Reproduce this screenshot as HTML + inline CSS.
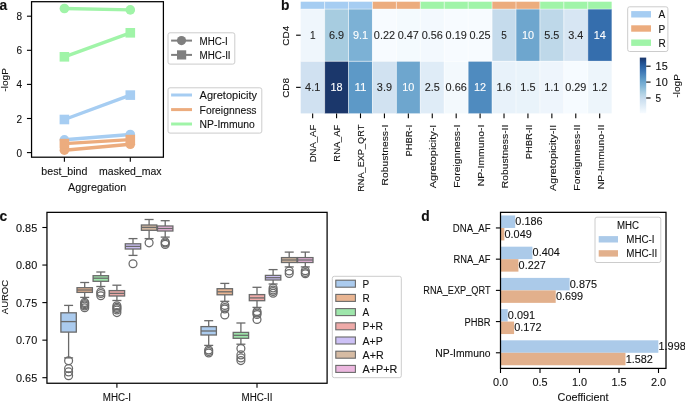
<!DOCTYPE html>
<html><head><meta charset="utf-8"><title>Figure</title>
<style>
html,body{margin:0;padding:0;background:#fff;}
body{width:685px;height:402px;overflow:hidden;}
svg{display:block;will-change:transform;font-family:"Liberation Sans", sans-serif;font-size:10.0px;fill:#111;}
text{stroke-width:0.1px;}
</style></head>
<body>
<svg width="685" height="402" viewBox="0 0 685 402">
<rect width="685" height="402" fill="#fff"/>
<g fill="#111" stroke="none">
<text x="-0.60" y="9.80" font-size="13.8" font-weight="bold" stroke="#111">a</text>
<line x1="26.95" y1="152.60" x2="31.55" y2="152.60" stroke="#000" stroke-width="1.1"/>
<text x="22.00" y="156.60" text-anchor="end" stroke="#111">0</text>
<line x1="26.95" y1="118.50" x2="31.55" y2="118.50" stroke="#000" stroke-width="1.1"/>
<text x="22.00" y="122.50" text-anchor="end" stroke="#111">2</text>
<line x1="26.95" y1="84.40" x2="31.55" y2="84.40" stroke="#000" stroke-width="1.1"/>
<text x="22.00" y="88.40" text-anchor="end" stroke="#111">4</text>
<line x1="26.95" y1="50.30" x2="31.55" y2="50.30" stroke="#000" stroke-width="1.1"/>
<text x="22.00" y="54.30" text-anchor="end" stroke="#111">6</text>
<line x1="26.95" y1="16.20" x2="31.55" y2="16.20" stroke="#000" stroke-width="1.1"/>
<text x="22.00" y="20.20" text-anchor="end" stroke="#111">8</text>
<line x1="64.40" y1="157.20" x2="64.40" y2="161.80" stroke="#000" stroke-width="1.1"/>
<text x="64.40" y="175.40" text-anchor="middle" stroke="#111" textLength="46.02" lengthAdjust="spacingAndGlyphs">best_bind</text>
<line x1="130.30" y1="157.20" x2="130.30" y2="161.80" stroke="#000" stroke-width="1.1"/>
<text x="130.30" y="175.40" text-anchor="middle" stroke="#111" textLength="62.51" lengthAdjust="spacingAndGlyphs">masked_max</text>
<text x="97.20" y="191.00" text-anchor="middle" stroke="#111" textLength="58.15" lengthAdjust="spacingAndGlyphs">Aggregation</text>
<text x="8.20" y="79.90" font-size="9.6" text-anchor="middle" stroke="#111" textLength="23.64" lengthAdjust="spacingAndGlyphs" transform="rotate(-90 8.20 79.90)">-logP</text>
<line x1="64.40" y1="139.80" x2="130.30" y2="134.50" stroke="#a6cdf2" stroke-width="3.4"/>
<circle cx="64.40" cy="139.80" r="4.80" fill="#a6cdf2"/>
<circle cx="130.30" cy="134.50" r="4.80" fill="#a6cdf2"/>
<line x1="64.40" y1="119.50" x2="130.30" y2="95.10" stroke="#a6cdf2" stroke-width="3.4"/>
<rect x="59.60" y="114.70" width="9.60" height="9.60" fill="#a6cdf2"/>
<rect x="125.50" y="90.30" width="9.60" height="9.60" fill="#a6cdf2"/>
<line x1="64.40" y1="150.20" x2="130.30" y2="144.30" stroke="#ecac7e" stroke-width="3.4"/>
<circle cx="64.40" cy="150.20" r="4.80" fill="#ecac7e"/>
<circle cx="130.30" cy="144.30" r="4.80" fill="#ecac7e"/>
<line x1="64.40" y1="143.60" x2="130.30" y2="139.60" stroke="#ecac7e" stroke-width="3.4"/>
<rect x="59.60" y="138.80" width="9.60" height="9.60" fill="#ecac7e"/>
<rect x="125.50" y="134.80" width="9.60" height="9.60" fill="#ecac7e"/>
<line x1="64.40" y1="8.50" x2="130.30" y2="9.90" stroke="#a0f4a8" stroke-width="3.4"/>
<circle cx="64.40" cy="8.50" r="4.80" fill="#a0f4a8"/>
<circle cx="130.30" cy="9.90" r="4.80" fill="#a0f4a8"/>
<line x1="64.40" y1="56.80" x2="130.30" y2="32.80" stroke="#a0f4a8" stroke-width="3.4"/>
<rect x="59.60" y="52.00" width="9.60" height="9.60" fill="#a0f4a8"/>
<rect x="125.50" y="28.00" width="9.60" height="9.60" fill="#a0f4a8"/>
<rect x="31.55" y="1.70" width="131.85" height="155.50" fill="none" stroke="#000" stroke-width="1.25"/>
<rect x="168.00" y="32.80" width="66.80" height="31.30" fill="#fff" stroke="#cccccc" stroke-width="1.0" rx="2"/>
<line x1="171.10" y1="40.60" x2="192.00" y2="40.60" stroke="#7f7f7f" stroke-width="2.0"/>
<circle cx="181.50" cy="40.60" r="4.60" fill="#7f7f7f"/>
<text x="199.60" y="44.60" stroke="#111" textLength="28.20" lengthAdjust="spacingAndGlyphs">MHC-I</text>
<line x1="171.10" y1="54.90" x2="192.00" y2="54.90" stroke="#7f7f7f" stroke-width="2.0"/>
<rect x="177.00" y="50.30" width="9.20" height="9.20" fill="#7f7f7f"/>
<text x="199.60" y="58.90" stroke="#111" textLength="31.01" lengthAdjust="spacingAndGlyphs">MHC-II</text>
<rect x="168.00" y="87.80" width="93.80" height="45.30" fill="#fff" stroke="#cccccc" stroke-width="1.0" rx="2"/>
<line x1="171.10" y1="95.00" x2="192.00" y2="95.00" stroke="#a6cdf2" stroke-width="3.0"/>
<text x="199.60" y="99.00" stroke="#111" textLength="57.49" lengthAdjust="spacingAndGlyphs">Agretopicity</text>
<line x1="171.10" y1="109.60" x2="192.00" y2="109.60" stroke="#ecac7e" stroke-width="3.0"/>
<text x="199.60" y="113.60" stroke="#111" textLength="56.94" lengthAdjust="spacingAndGlyphs">Foreignness</text>
<line x1="171.10" y1="124.00" x2="192.00" y2="124.00" stroke="#a0f4a8" stroke-width="3.0"/>
<text x="199.60" y="128.00" stroke="#111" textLength="55.22" lengthAdjust="spacingAndGlyphs">NP-Immuno</text>
<text x="281.00" y="9.80" font-size="13.8" font-weight="bold" stroke="#111">b</text>
<rect x="300.70" y="1.70" width="23.92" height="7.40" fill="#a6cdf2"/>
<rect x="324.62" y="1.70" width="23.92" height="7.40" fill="#a6cdf2"/>
<rect x="348.54" y="1.70" width="23.92" height="7.40" fill="#a6cdf2"/>
<rect x="372.46" y="1.70" width="23.92" height="7.40" fill="#ecac7e"/>
<rect x="396.38" y="1.70" width="23.92" height="7.40" fill="#ecac7e"/>
<rect x="420.30" y="1.70" width="23.92" height="7.40" fill="#a0f4a8"/>
<rect x="444.22" y="1.70" width="23.92" height="7.40" fill="#a0f4a8"/>
<rect x="468.14" y="1.70" width="23.92" height="7.40" fill="#a0f4a8"/>
<rect x="492.06" y="1.70" width="23.92" height="7.40" fill="#ecac7e"/>
<rect x="515.98" y="1.70" width="23.92" height="7.40" fill="#ecac7e"/>
<rect x="539.90" y="1.70" width="23.92" height="7.40" fill="#a0f4a8"/>
<rect x="563.82" y="1.70" width="23.92" height="7.40" fill="#a0f4a8"/>
<rect x="587.74" y="1.70" width="23.92" height="7.40" fill="#a0f4a8"/>
<rect x="300.70" y="9.10" width="23.92" height="52.20" fill="#eff6fc"/>
<rect x="324.62" y="9.10" width="23.92" height="52.20" fill="#a7cce0"/>
<rect x="348.54" y="9.10" width="23.92" height="52.20" fill="#7cb1d5"/>
<rect x="372.46" y="9.10" width="23.92" height="52.20" fill="#f7fbff"/>
<rect x="396.38" y="9.10" width="23.92" height="52.20" fill="#f4fafe"/>
<rect x="420.30" y="9.10" width="23.92" height="52.20" fill="#f3f9fe"/>
<rect x="444.22" y="9.10" width="23.92" height="52.20" fill="#f7fbff"/>
<rect x="468.14" y="9.10" width="23.92" height="52.20" fill="#f7fbff"/>
<rect x="492.06" y="9.10" width="23.92" height="52.20" fill="#c5dbec"/>
<rect x="515.98" y="9.10" width="23.92" height="52.20" fill="#6ea6ce"/>
<rect x="539.90" y="9.10" width="23.92" height="52.20" fill="#bed8e9"/>
<rect x="563.82" y="9.10" width="23.92" height="52.20" fill="#d7e6f3"/>
<rect x="587.74" y="9.10" width="23.92" height="52.20" fill="#356ead"/>
<rect x="300.70" y="61.30" width="23.92" height="52.10" fill="#d0e1f1"/>
<rect x="324.62" y="61.30" width="23.92" height="52.10" fill="#1b376b"/>
<rect x="348.54" y="61.30" width="23.92" height="52.10" fill="#5d99c7"/>
<rect x="372.46" y="61.30" width="23.92" height="52.10" fill="#d1e2f1"/>
<rect x="396.38" y="61.30" width="23.92" height="52.10" fill="#6ea6ce"/>
<rect x="420.30" y="61.30" width="23.92" height="52.10" fill="#dfecf7"/>
<rect x="444.22" y="61.30" width="23.92" height="52.10" fill="#f3f9fd"/>
<rect x="468.14" y="61.30" width="23.92" height="52.10" fill="#4f8bbf"/>
<rect x="492.06" y="61.30" width="23.92" height="52.10" fill="#e8f2fa"/>
<rect x="515.98" y="61.30" width="23.92" height="52.10" fill="#e9f3fa"/>
<rect x="539.90" y="61.30" width="23.92" height="52.10" fill="#eef5fc"/>
<rect x="563.82" y="61.30" width="23.92" height="52.10" fill="#f6fbff"/>
<rect x="587.74" y="61.30" width="23.92" height="52.10" fill="#edf5fb"/>
<line x1="324.62" y1="1.70" x2="324.62" y2="113.40" stroke="#fff" stroke-width="0.55"/>
<line x1="348.54" y1="1.70" x2="348.54" y2="113.40" stroke="#fff" stroke-width="0.55"/>
<line x1="372.46" y1="1.70" x2="372.46" y2="113.40" stroke="#fff" stroke-width="0.55"/>
<line x1="396.38" y1="1.70" x2="396.38" y2="113.40" stroke="#fff" stroke-width="0.55"/>
<line x1="420.30" y1="1.70" x2="420.30" y2="113.40" stroke="#fff" stroke-width="0.55"/>
<line x1="444.22" y1="1.70" x2="444.22" y2="113.40" stroke="#fff" stroke-width="0.55"/>
<line x1="468.14" y1="1.70" x2="468.14" y2="113.40" stroke="#fff" stroke-width="0.55"/>
<line x1="492.06" y1="1.70" x2="492.06" y2="113.40" stroke="#fff" stroke-width="0.55"/>
<line x1="515.98" y1="1.70" x2="515.98" y2="113.40" stroke="#fff" stroke-width="0.55"/>
<line x1="539.90" y1="1.70" x2="539.90" y2="113.40" stroke="#fff" stroke-width="0.55"/>
<line x1="563.82" y1="1.70" x2="563.82" y2="113.40" stroke="#fff" stroke-width="0.55"/>
<line x1="587.74" y1="1.70" x2="587.74" y2="113.40" stroke="#fff" stroke-width="0.55"/>
<line x1="300.70" y1="9.10" x2="611.66" y2="9.10" stroke="#fff" stroke-width="0.45"/>
<line x1="300.70" y1="61.30" x2="611.66" y2="61.30" stroke="#fff" stroke-width="0.55"/>
<text x="312.66" y="38.85" text-anchor="middle" fill="#262626" stroke="#262626">1</text>
<text x="336.58" y="38.85" text-anchor="middle" fill="#262626" stroke="#262626" textLength="15.11" lengthAdjust="spacingAndGlyphs">6.9</text>
<text x="360.50" y="38.85" text-anchor="middle" fill="#ffffff" stroke="#ffffff" textLength="15.11" lengthAdjust="spacingAndGlyphs">9.1</text>
<text x="384.42" y="38.85" text-anchor="middle" fill="#262626" stroke="#262626" textLength="21.15" lengthAdjust="spacingAndGlyphs">0.22</text>
<text x="408.34" y="38.85" text-anchor="middle" fill="#262626" stroke="#262626" textLength="21.15" lengthAdjust="spacingAndGlyphs">0.47</text>
<text x="432.26" y="38.85" text-anchor="middle" fill="#262626" stroke="#262626" textLength="21.15" lengthAdjust="spacingAndGlyphs">0.56</text>
<text x="456.18" y="38.85" text-anchor="middle" fill="#262626" stroke="#262626" textLength="21.15" lengthAdjust="spacingAndGlyphs">0.19</text>
<text x="480.10" y="38.85" text-anchor="middle" fill="#262626" stroke="#262626" textLength="21.15" lengthAdjust="spacingAndGlyphs">0.25</text>
<text x="504.02" y="38.85" text-anchor="middle" fill="#262626" stroke="#262626">5</text>
<text x="527.94" y="38.85" text-anchor="middle" fill="#ffffff" stroke="#ffffff" textLength="12.09" lengthAdjust="spacingAndGlyphs">10</text>
<text x="551.86" y="38.85" text-anchor="middle" fill="#262626" stroke="#262626" textLength="15.11" lengthAdjust="spacingAndGlyphs">5.5</text>
<text x="575.78" y="38.85" text-anchor="middle" fill="#262626" stroke="#262626" textLength="15.11" lengthAdjust="spacingAndGlyphs">3.4</text>
<text x="599.70" y="38.85" text-anchor="middle" fill="#ffffff" stroke="#ffffff" textLength="12.09" lengthAdjust="spacingAndGlyphs">14</text>
<text x="312.66" y="91.00" text-anchor="middle" fill="#262626" stroke="#262626" textLength="15.11" lengthAdjust="spacingAndGlyphs">4.1</text>
<text x="336.58" y="91.00" text-anchor="middle" fill="#ffffff" stroke="#ffffff" textLength="12.09" lengthAdjust="spacingAndGlyphs">18</text>
<text x="360.50" y="91.00" text-anchor="middle" fill="#ffffff" stroke="#ffffff" textLength="12.09" lengthAdjust="spacingAndGlyphs">11</text>
<text x="384.42" y="91.00" text-anchor="middle" fill="#262626" stroke="#262626" textLength="15.11" lengthAdjust="spacingAndGlyphs">3.9</text>
<text x="408.34" y="91.00" text-anchor="middle" fill="#ffffff" stroke="#ffffff" textLength="12.09" lengthAdjust="spacingAndGlyphs">10</text>
<text x="432.26" y="91.00" text-anchor="middle" fill="#262626" stroke="#262626" textLength="15.11" lengthAdjust="spacingAndGlyphs">2.5</text>
<text x="456.18" y="91.00" text-anchor="middle" fill="#262626" stroke="#262626" textLength="21.15" lengthAdjust="spacingAndGlyphs">0.66</text>
<text x="480.10" y="91.00" text-anchor="middle" fill="#ffffff" stroke="#ffffff" textLength="12.09" lengthAdjust="spacingAndGlyphs">12</text>
<text x="504.02" y="91.00" text-anchor="middle" fill="#262626" stroke="#262626" textLength="15.11" lengthAdjust="spacingAndGlyphs">1.6</text>
<text x="527.94" y="91.00" text-anchor="middle" fill="#262626" stroke="#262626" textLength="15.11" lengthAdjust="spacingAndGlyphs">1.5</text>
<text x="551.86" y="91.00" text-anchor="middle" fill="#262626" stroke="#262626" textLength="15.11" lengthAdjust="spacingAndGlyphs">1.1</text>
<text x="575.78" y="91.00" text-anchor="middle" fill="#262626" stroke="#262626" textLength="21.15" lengthAdjust="spacingAndGlyphs">0.29</text>
<text x="599.70" y="91.00" text-anchor="middle" fill="#262626" stroke="#262626" textLength="15.11" lengthAdjust="spacingAndGlyphs">1.2</text>
<line x1="296.10" y1="35.20" x2="300.70" y2="35.20" stroke="#000" stroke-width="1.1"/>
<text x="289.30" y="35.70" font-size="9.6" text-anchor="middle" stroke="#111" textLength="19.99" lengthAdjust="spacingAndGlyphs" transform="rotate(-90 289.30 35.70)">CD4</text>
<line x1="296.10" y1="87.35" x2="300.70" y2="87.35" stroke="#000" stroke-width="1.1"/>
<text x="289.30" y="87.85" font-size="9.6" text-anchor="middle" stroke="#111" textLength="19.99" lengthAdjust="spacingAndGlyphs" transform="rotate(-90 289.30 87.85)">CD8</text>
<line x1="312.66" y1="113.40" x2="312.66" y2="118.20" stroke="#000" stroke-width="1.1"/>
<text x="316.51" y="124.70" font-size="9.6" text-anchor="end" stroke="#111" textLength="37.63" lengthAdjust="spacingAndGlyphs" transform="rotate(-90 316.51 124.70)">DNA_AF</text>
<line x1="336.58" y1="113.40" x2="336.58" y2="118.20" stroke="#000" stroke-width="1.1"/>
<text x="340.43" y="124.70" font-size="9.6" text-anchor="end" stroke="#111" textLength="36.92" lengthAdjust="spacingAndGlyphs" transform="rotate(-90 340.43 124.70)">RNA_AF</text>
<line x1="360.50" y1="113.40" x2="360.50" y2="118.20" stroke="#000" stroke-width="1.1"/>
<text x="364.35" y="124.70" font-size="9.6" text-anchor="end" stroke="#111" textLength="67.14" lengthAdjust="spacingAndGlyphs" transform="rotate(-90 364.35 124.70)">RNA_EXP_QRT</text>
<line x1="384.42" y1="113.40" x2="384.42" y2="118.20" stroke="#000" stroke-width="1.1"/>
<text x="388.27" y="124.70" font-size="9.6" text-anchor="end" stroke="#111" textLength="60.71" lengthAdjust="spacingAndGlyphs" transform="rotate(-90 388.27 124.70)">Robustness-I</text>
<line x1="408.34" y1="113.40" x2="408.34" y2="118.20" stroke="#000" stroke-width="1.1"/>
<text x="412.19" y="124.70" font-size="9.6" text-anchor="end" stroke="#111" textLength="31.84" lengthAdjust="spacingAndGlyphs" transform="rotate(-90 412.19 124.70)">PHBR-I</text>
<line x1="432.26" y1="113.40" x2="432.26" y2="118.20" stroke="#000" stroke-width="1.1"/>
<text x="436.11" y="124.70" font-size="9.6" text-anchor="end" stroke="#111" textLength="63.55" lengthAdjust="spacingAndGlyphs" transform="rotate(-90 436.11 124.70)">Agretopicity-I</text>
<line x1="456.18" y1="113.40" x2="456.18" y2="118.20" stroke="#000" stroke-width="1.1"/>
<text x="460.03" y="124.70" font-size="9.6" text-anchor="end" stroke="#111" textLength="63.17" lengthAdjust="spacingAndGlyphs" transform="rotate(-90 460.03 124.70)">Foreignness-I</text>
<line x1="480.10" y1="113.40" x2="480.10" y2="118.20" stroke="#000" stroke-width="1.1"/>
<text x="483.95" y="124.70" font-size="9.6" text-anchor="end" stroke="#111" textLength="61.63" lengthAdjust="spacingAndGlyphs" transform="rotate(-90 483.95 124.70)">NP-Immuno-I</text>
<line x1="504.02" y1="113.40" x2="504.02" y2="118.20" stroke="#000" stroke-width="1.1"/>
<text x="507.87" y="124.70" font-size="9.6" text-anchor="end" stroke="#111" textLength="63.51" lengthAdjust="spacingAndGlyphs" transform="rotate(-90 507.87 124.70)">Robustness-II</text>
<line x1="527.94" y1="113.40" x2="527.94" y2="118.20" stroke="#000" stroke-width="1.1"/>
<text x="531.79" y="124.70" font-size="9.6" text-anchor="end" stroke="#111" textLength="34.64" lengthAdjust="spacingAndGlyphs" transform="rotate(-90 531.79 124.70)">PHBR-II</text>
<line x1="551.86" y1="113.40" x2="551.86" y2="118.20" stroke="#000" stroke-width="1.1"/>
<text x="555.71" y="124.70" font-size="9.6" text-anchor="end" stroke="#111" textLength="66.35" lengthAdjust="spacingAndGlyphs" transform="rotate(-90 555.71 124.70)">Agretopicity-II</text>
<line x1="575.78" y1="113.40" x2="575.78" y2="118.20" stroke="#000" stroke-width="1.1"/>
<text x="579.63" y="124.70" font-size="9.6" text-anchor="end" stroke="#111" textLength="65.97" lengthAdjust="spacingAndGlyphs" transform="rotate(-90 579.63 124.70)">Foreignness-II</text>
<line x1="599.70" y1="113.40" x2="599.70" y2="118.20" stroke="#000" stroke-width="1.1"/>
<text x="603.55" y="124.70" font-size="9.6" text-anchor="end" stroke="#111" textLength="64.43" lengthAdjust="spacingAndGlyphs" transform="rotate(-90 603.55 124.70)">NP-Immuno-II</text>
<rect x="627.70" y="6.80" width="40.20" height="44.70" fill="#fff" stroke="#cccccc" stroke-width="1.0" rx="2"/>
<rect x="631.20" y="11.10" width="19.80" height="6.40" fill="#a6cdf2"/>
<text x="658.40" y="18.30" stroke="#111">A</text>
<rect x="631.20" y="25.30" width="19.80" height="6.40" fill="#ecac7e"/>
<text x="658.40" y="32.50" stroke="#111">P</text>
<rect x="631.20" y="39.50" width="19.80" height="6.40" fill="#a0f4a8"/>
<text x="658.40" y="46.70" stroke="#111">R</text>
<defs><linearGradient id="cb" x1="0" y1="0" x2="0" y2="1"><stop offset="0.00" stop-color="#1b376b"/><stop offset="0.05" stop-color="#1e437d"/><stop offset="0.10" stop-color="#225191"/><stop offset="0.15" stop-color="#295fa1"/><stop offset="0.20" stop-color="#336bab"/><stop offset="0.25" stop-color="#3d77b4"/><stop offset="0.30" stop-color="#4984bc"/><stop offset="0.35" stop-color="#5591c2"/><stop offset="0.40" stop-color="#629ec9"/><stop offset="0.45" stop-color="#71a9d0"/><stop offset="0.50" stop-color="#7fb3d6"/><stop offset="0.55" stop-color="#90beda"/><stop offset="0.60" stop-color="#a2c9df"/><stop offset="0.65" stop-color="#b2d2e4"/><stop offset="0.70" stop-color="#bfd8ea"/><stop offset="0.75" stop-color="#cbdeef"/><stop offset="0.80" stop-color="#d3e4f2"/><stop offset="0.85" stop-color="#dceaf5"/><stop offset="0.90" stop-color="#e5f0f9"/><stop offset="0.95" stop-color="#eef6fc"/><stop offset="1.00" stop-color="#f7fbff"/></linearGradient></defs>
<rect x="639.80" y="57.60" width="6.40" height="55.70" fill="url(#cb)"/>
<line x1="646.20" y1="98.00" x2="650.60" y2="98.00" stroke="#000" stroke-width="1.1"/>
<text x="655.60" y="102.00" stroke="#111">5</text>
<line x1="646.20" y1="82.09" x2="650.60" y2="82.09" stroke="#000" stroke-width="1.1"/>
<text x="655.60" y="86.09" stroke="#111" textLength="12.09" lengthAdjust="spacingAndGlyphs">10</text>
<line x1="646.20" y1="66.19" x2="650.60" y2="66.19" stroke="#000" stroke-width="1.1"/>
<text x="655.60" y="70.19" stroke="#111" textLength="12.09" lengthAdjust="spacingAndGlyphs">15</text>
<text x="680.20" y="85.90" font-size="9.6" text-anchor="middle" stroke="#111" textLength="23.64" lengthAdjust="spacingAndGlyphs" transform="rotate(-90 680.20 85.90)">-logP</text>
<text x="-0.60" y="220.80" font-size="13.8" font-weight="bold" stroke="#111">c</text>
<line x1="42.35" y1="377.70" x2="46.95" y2="377.70" stroke="#000" stroke-width="1.1"/>
<text x="37.20" y="381.70" text-anchor="end" stroke="#111" textLength="21.15" lengthAdjust="spacingAndGlyphs">0.65</text>
<line x1="42.35" y1="340.15" x2="46.95" y2="340.15" stroke="#000" stroke-width="1.1"/>
<text x="37.20" y="344.15" text-anchor="end" stroke="#111" textLength="21.15" lengthAdjust="spacingAndGlyphs">0.70</text>
<line x1="42.35" y1="302.60" x2="46.95" y2="302.60" stroke="#000" stroke-width="1.1"/>
<text x="37.20" y="306.60" text-anchor="end" stroke="#111" textLength="21.15" lengthAdjust="spacingAndGlyphs">0.75</text>
<line x1="42.35" y1="265.05" x2="46.95" y2="265.05" stroke="#000" stroke-width="1.1"/>
<text x="37.20" y="269.05" text-anchor="end" stroke="#111" textLength="21.15" lengthAdjust="spacingAndGlyphs">0.80</text>
<line x1="42.35" y1="227.50" x2="46.95" y2="227.50" stroke="#000" stroke-width="1.1"/>
<text x="37.20" y="231.50" text-anchor="end" stroke="#111" textLength="21.15" lengthAdjust="spacingAndGlyphs">0.85</text>
<line x1="116.90" y1="383.25" x2="116.90" y2="387.85" stroke="#000" stroke-width="1.1"/>
<text x="116.90" y="401.20" text-anchor="middle" stroke="#111" textLength="28.20" lengthAdjust="spacingAndGlyphs">MHC-I</text>
<line x1="257.00" y1="383.25" x2="257.00" y2="387.85" stroke="#000" stroke-width="1.1"/>
<text x="257.00" y="401.20" text-anchor="middle" stroke="#111" textLength="31.01" lengthAdjust="spacingAndGlyphs">MHC-II</text>
<text x="8.20" y="297.10" font-size="9.6" text-anchor="middle" stroke="#111" textLength="34.16" lengthAdjust="spacingAndGlyphs" transform="rotate(-90 8.20 297.10)">AUROC</text>
<line x1="68.60" y1="305.40" x2="68.60" y2="312.80" stroke="#6a6a6a" stroke-width="1.3"/>
<line x1="68.60" y1="332.10" x2="68.60" y2="357.90" stroke="#6a6a6a" stroke-width="1.3"/>
<line x1="64.10" y1="305.40" x2="73.10" y2="305.40" stroke="#6a6a6a" stroke-width="1.3"/>
<line x1="64.10" y1="357.90" x2="73.10" y2="357.90" stroke="#6a6a6a" stroke-width="1.3"/>
<rect x="60.90" y="312.80" width="15.40" height="19.30" fill="#abcbee" stroke="#6a6a6a" stroke-width="1.3"/>
<line x1="60.90" y1="321.60" x2="76.30" y2="321.60" stroke="#6a6a6a" stroke-width="1.3"/>
<circle cx="68.60" cy="360.70" r="3.95" fill="none" stroke="#6a6a6a" stroke-width="1.25"/>
<circle cx="68.60" cy="368.60" r="3.95" fill="none" stroke="#6a6a6a" stroke-width="1.25"/>
<circle cx="68.60" cy="371.90" r="3.95" fill="none" stroke="#6a6a6a" stroke-width="1.25"/>
<circle cx="68.60" cy="375.80" r="3.95" fill="none" stroke="#6a6a6a" stroke-width="1.25"/>
<line x1="84.70" y1="282.50" x2="84.70" y2="287.70" stroke="#6a6a6a" stroke-width="1.3"/>
<line x1="84.70" y1="292.40" x2="84.70" y2="297.40" stroke="#6a6a6a" stroke-width="1.3"/>
<line x1="80.20" y1="282.50" x2="89.20" y2="282.50" stroke="#6a6a6a" stroke-width="1.3"/>
<line x1="80.20" y1="297.40" x2="89.20" y2="297.40" stroke="#6a6a6a" stroke-width="1.3"/>
<rect x="77.00" y="287.70" width="15.40" height="4.70" fill="#e9b592" stroke="#6a6a6a" stroke-width="1.3"/>
<line x1="77.00" y1="290.00" x2="92.40" y2="290.00" stroke="#6a6a6a" stroke-width="1.3"/>
<circle cx="84.70" cy="302.40" r="3.95" fill="none" stroke="#6a6a6a" stroke-width="1.25"/>
<circle cx="84.70" cy="303.60" r="3.95" fill="none" stroke="#6a6a6a" stroke-width="1.25"/>
<circle cx="84.70" cy="304.80" r="3.95" fill="none" stroke="#6a6a6a" stroke-width="1.25"/>
<circle cx="84.70" cy="306.00" r="3.95" fill="none" stroke="#6a6a6a" stroke-width="1.25"/>
<circle cx="84.70" cy="307.80" r="3.95" fill="none" stroke="#6a6a6a" stroke-width="1.25"/>
<line x1="100.80" y1="272.00" x2="100.80" y2="275.70" stroke="#6a6a6a" stroke-width="1.3"/>
<line x1="100.80" y1="281.30" x2="100.80" y2="286.50" stroke="#6a6a6a" stroke-width="1.3"/>
<line x1="96.30" y1="272.00" x2="105.30" y2="272.00" stroke="#6a6a6a" stroke-width="1.3"/>
<line x1="96.30" y1="286.50" x2="105.30" y2="286.50" stroke="#6a6a6a" stroke-width="1.3"/>
<rect x="93.10" y="275.70" width="15.40" height="5.60" fill="#9ee6ab" stroke="#6a6a6a" stroke-width="1.3"/>
<line x1="93.10" y1="278.20" x2="108.50" y2="278.20" stroke="#6a6a6a" stroke-width="1.3"/>
<circle cx="100.80" cy="291.90" r="3.95" fill="none" stroke="#6a6a6a" stroke-width="1.25"/>
<circle cx="100.80" cy="293.50" r="3.95" fill="none" stroke="#6a6a6a" stroke-width="1.25"/>
<circle cx="100.80" cy="295.80" r="3.95" fill="none" stroke="#6a6a6a" stroke-width="1.25"/>
<line x1="116.90" y1="285.20" x2="116.90" y2="290.60" stroke="#6a6a6a" stroke-width="1.3"/>
<line x1="116.90" y1="296.00" x2="116.90" y2="300.50" stroke="#6a6a6a" stroke-width="1.3"/>
<line x1="112.40" y1="285.20" x2="121.40" y2="285.20" stroke="#6a6a6a" stroke-width="1.3"/>
<line x1="112.40" y1="300.50" x2="121.40" y2="300.50" stroke="#6a6a6a" stroke-width="1.3"/>
<rect x="109.20" y="290.60" width="15.40" height="5.40" fill="#eeaaa8" stroke="#6a6a6a" stroke-width="1.3"/>
<line x1="109.20" y1="293.40" x2="124.60" y2="293.40" stroke="#6a6a6a" stroke-width="1.3"/>
<circle cx="116.90" cy="305.80" r="3.95" fill="none" stroke="#6a6a6a" stroke-width="1.25"/>
<circle cx="116.90" cy="307.20" r="3.95" fill="none" stroke="#6a6a6a" stroke-width="1.25"/>
<circle cx="116.90" cy="308.60" r="3.95" fill="none" stroke="#6a6a6a" stroke-width="1.25"/>
<circle cx="116.90" cy="310.00" r="3.95" fill="none" stroke="#6a6a6a" stroke-width="1.25"/>
<circle cx="116.90" cy="312.60" r="3.95" fill="none" stroke="#6a6a6a" stroke-width="1.25"/>
<line x1="133.00" y1="238.60" x2="133.00" y2="243.80" stroke="#6a6a6a" stroke-width="1.3"/>
<line x1="133.00" y1="249.00" x2="133.00" y2="255.40" stroke="#6a6a6a" stroke-width="1.3"/>
<line x1="128.50" y1="238.60" x2="137.50" y2="238.60" stroke="#6a6a6a" stroke-width="1.3"/>
<line x1="128.50" y1="255.40" x2="137.50" y2="255.40" stroke="#6a6a6a" stroke-width="1.3"/>
<rect x="125.30" y="243.80" width="15.40" height="5.20" fill="#cdc1f6" stroke="#6a6a6a" stroke-width="1.3"/>
<line x1="125.30" y1="246.40" x2="140.70" y2="246.40" stroke="#6a6a6a" stroke-width="1.3"/>
<circle cx="133.00" cy="263.70" r="3.95" fill="none" stroke="#6a6a6a" stroke-width="1.25"/>
<line x1="149.10" y1="219.50" x2="149.10" y2="225.00" stroke="#6a6a6a" stroke-width="1.3"/>
<line x1="149.10" y1="230.30" x2="149.10" y2="238.60" stroke="#6a6a6a" stroke-width="1.3"/>
<line x1="144.60" y1="219.50" x2="153.60" y2="219.50" stroke="#6a6a6a" stroke-width="1.3"/>
<line x1="144.60" y1="238.60" x2="153.60" y2="238.60" stroke="#6a6a6a" stroke-width="1.3"/>
<rect x="141.40" y="225.00" width="15.40" height="5.30" fill="#d6bba3" stroke="#6a6a6a" stroke-width="1.3"/>
<line x1="141.40" y1="227.40" x2="156.80" y2="227.40" stroke="#6a6a6a" stroke-width="1.3"/>
<circle cx="149.10" cy="242.80" r="3.95" fill="none" stroke="#6a6a6a" stroke-width="1.25"/>
<line x1="165.20" y1="220.70" x2="165.20" y2="226.00" stroke="#6a6a6a" stroke-width="1.3"/>
<line x1="165.20" y1="231.00" x2="165.20" y2="237.10" stroke="#6a6a6a" stroke-width="1.3"/>
<line x1="160.70" y1="220.70" x2="169.70" y2="220.70" stroke="#6a6a6a" stroke-width="1.3"/>
<line x1="160.70" y1="237.10" x2="169.70" y2="237.10" stroke="#6a6a6a" stroke-width="1.3"/>
<rect x="157.50" y="226.00" width="15.40" height="5.00" fill="#ecb7df" stroke="#6a6a6a" stroke-width="1.3"/>
<line x1="157.50" y1="228.50" x2="172.90" y2="228.50" stroke="#6a6a6a" stroke-width="1.3"/>
<circle cx="165.20" cy="241.90" r="3.95" fill="none" stroke="#6a6a6a" stroke-width="1.25"/>
<circle cx="165.20" cy="243.00" r="3.95" fill="none" stroke="#6a6a6a" stroke-width="1.25"/>
<circle cx="165.20" cy="244.40" r="3.95" fill="none" stroke="#6a6a6a" stroke-width="1.25"/>
<line x1="208.70" y1="320.70" x2="208.70" y2="326.60" stroke="#6a6a6a" stroke-width="1.3"/>
<line x1="208.70" y1="335.00" x2="208.70" y2="345.40" stroke="#6a6a6a" stroke-width="1.3"/>
<line x1="204.20" y1="320.70" x2="213.20" y2="320.70" stroke="#6a6a6a" stroke-width="1.3"/>
<line x1="204.20" y1="345.40" x2="213.20" y2="345.40" stroke="#6a6a6a" stroke-width="1.3"/>
<rect x="201.00" y="326.60" width="15.40" height="8.40" fill="#abcbee" stroke="#6a6a6a" stroke-width="1.3"/>
<line x1="201.00" y1="331.00" x2="216.40" y2="331.00" stroke="#6a6a6a" stroke-width="1.3"/>
<circle cx="208.70" cy="350.00" r="3.95" fill="none" stroke="#6a6a6a" stroke-width="1.25"/>
<circle cx="208.70" cy="351.50" r="3.95" fill="none" stroke="#6a6a6a" stroke-width="1.25"/>
<circle cx="208.70" cy="353.00" r="3.95" fill="none" stroke="#6a6a6a" stroke-width="1.25"/>
<line x1="224.80" y1="283.40" x2="224.80" y2="288.70" stroke="#6a6a6a" stroke-width="1.3"/>
<line x1="224.80" y1="294.80" x2="224.80" y2="301.30" stroke="#6a6a6a" stroke-width="1.3"/>
<line x1="220.30" y1="283.40" x2="229.30" y2="283.40" stroke="#6a6a6a" stroke-width="1.3"/>
<line x1="220.30" y1="301.30" x2="229.30" y2="301.30" stroke="#6a6a6a" stroke-width="1.3"/>
<rect x="217.10" y="288.70" width="15.40" height="6.10" fill="#e9b592" stroke="#6a6a6a" stroke-width="1.3"/>
<line x1="217.10" y1="291.80" x2="232.50" y2="291.80" stroke="#6a6a6a" stroke-width="1.3"/>
<circle cx="224.80" cy="305.50" r="3.95" fill="none" stroke="#6a6a6a" stroke-width="1.25"/>
<circle cx="224.80" cy="307.50" r="3.95" fill="none" stroke="#6a6a6a" stroke-width="1.25"/>
<circle cx="224.80" cy="309.00" r="3.95" fill="none" stroke="#6a6a6a" stroke-width="1.25"/>
<circle cx="224.80" cy="315.00" r="3.95" fill="none" stroke="#6a6a6a" stroke-width="1.25"/>
<line x1="240.90" y1="323.00" x2="240.90" y2="332.40" stroke="#6a6a6a" stroke-width="1.3"/>
<line x1="240.90" y1="338.30" x2="240.90" y2="344.20" stroke="#6a6a6a" stroke-width="1.3"/>
<line x1="236.40" y1="323.00" x2="245.40" y2="323.00" stroke="#6a6a6a" stroke-width="1.3"/>
<line x1="236.40" y1="344.20" x2="245.40" y2="344.20" stroke="#6a6a6a" stroke-width="1.3"/>
<rect x="233.20" y="332.40" width="15.40" height="5.90" fill="#9ee6ab" stroke="#6a6a6a" stroke-width="1.3"/>
<line x1="233.20" y1="335.30" x2="248.60" y2="335.30" stroke="#6a6a6a" stroke-width="1.3"/>
<circle cx="240.90" cy="348.60" r="3.95" fill="none" stroke="#6a6a6a" stroke-width="1.25"/>
<circle cx="240.90" cy="354.90" r="3.95" fill="none" stroke="#6a6a6a" stroke-width="1.25"/>
<circle cx="240.90" cy="357.90" r="3.95" fill="none" stroke="#6a6a6a" stroke-width="1.25"/>
<circle cx="240.90" cy="360.60" r="3.95" fill="none" stroke="#6a6a6a" stroke-width="1.25"/>
<line x1="257.00" y1="287.30" x2="257.00" y2="294.60" stroke="#6a6a6a" stroke-width="1.3"/>
<line x1="257.00" y1="300.70" x2="257.00" y2="307.40" stroke="#6a6a6a" stroke-width="1.3"/>
<line x1="252.50" y1="287.30" x2="261.50" y2="287.30" stroke="#6a6a6a" stroke-width="1.3"/>
<line x1="252.50" y1="307.40" x2="261.50" y2="307.40" stroke="#6a6a6a" stroke-width="1.3"/>
<rect x="249.30" y="294.60" width="15.40" height="6.10" fill="#eeaaa8" stroke="#6a6a6a" stroke-width="1.3"/>
<line x1="249.30" y1="297.90" x2="264.70" y2="297.90" stroke="#6a6a6a" stroke-width="1.3"/>
<circle cx="257.00" cy="311.50" r="3.95" fill="none" stroke="#6a6a6a" stroke-width="1.25"/>
<circle cx="257.00" cy="313.00" r="3.95" fill="none" stroke="#6a6a6a" stroke-width="1.25"/>
<circle cx="257.00" cy="314.50" r="3.95" fill="none" stroke="#6a6a6a" stroke-width="1.25"/>
<circle cx="257.00" cy="319.50" r="3.95" fill="none" stroke="#6a6a6a" stroke-width="1.25"/>
<line x1="273.10" y1="269.60" x2="273.10" y2="275.40" stroke="#6a6a6a" stroke-width="1.3"/>
<line x1="273.10" y1="280.00" x2="273.10" y2="284.00" stroke="#6a6a6a" stroke-width="1.3"/>
<line x1="268.60" y1="269.60" x2="277.60" y2="269.60" stroke="#6a6a6a" stroke-width="1.3"/>
<line x1="268.60" y1="284.00" x2="277.60" y2="284.00" stroke="#6a6a6a" stroke-width="1.3"/>
<rect x="265.40" y="275.40" width="15.40" height="4.60" fill="#cdc1f6" stroke="#6a6a6a" stroke-width="1.3"/>
<line x1="265.40" y1="277.70" x2="280.80" y2="277.70" stroke="#6a6a6a" stroke-width="1.3"/>
<circle cx="273.10" cy="288.00" r="3.95" fill="none" stroke="#6a6a6a" stroke-width="1.25"/>
<circle cx="273.10" cy="290.00" r="3.95" fill="none" stroke="#6a6a6a" stroke-width="1.25"/>
<circle cx="273.10" cy="291.50" r="3.95" fill="none" stroke="#6a6a6a" stroke-width="1.25"/>
<circle cx="273.10" cy="293.30" r="3.95" fill="none" stroke="#6a6a6a" stroke-width="1.25"/>
<line x1="289.20" y1="252.10" x2="289.20" y2="257.60" stroke="#6a6a6a" stroke-width="1.3"/>
<line x1="289.20" y1="262.50" x2="289.20" y2="266.90" stroke="#6a6a6a" stroke-width="1.3"/>
<line x1="284.70" y1="252.10" x2="293.70" y2="252.10" stroke="#6a6a6a" stroke-width="1.3"/>
<line x1="284.70" y1="266.90" x2="293.70" y2="266.90" stroke="#6a6a6a" stroke-width="1.3"/>
<rect x="281.50" y="257.60" width="15.40" height="4.90" fill="#d6bba3" stroke="#6a6a6a" stroke-width="1.3"/>
<line x1="281.50" y1="260.00" x2="296.90" y2="260.00" stroke="#6a6a6a" stroke-width="1.3"/>
<circle cx="289.20" cy="271.00" r="3.95" fill="none" stroke="#6a6a6a" stroke-width="1.25"/>
<circle cx="289.20" cy="273.50" r="3.95" fill="none" stroke="#6a6a6a" stroke-width="1.25"/>
<line x1="305.30" y1="252.10" x2="305.30" y2="257.60" stroke="#6a6a6a" stroke-width="1.3"/>
<line x1="305.30" y1="262.50" x2="305.30" y2="266.90" stroke="#6a6a6a" stroke-width="1.3"/>
<line x1="300.80" y1="252.10" x2="309.80" y2="252.10" stroke="#6a6a6a" stroke-width="1.3"/>
<line x1="300.80" y1="266.90" x2="309.80" y2="266.90" stroke="#6a6a6a" stroke-width="1.3"/>
<rect x="297.60" y="257.60" width="15.40" height="4.90" fill="#ecb7df" stroke="#6a6a6a" stroke-width="1.3"/>
<line x1="297.60" y1="260.00" x2="313.00" y2="260.00" stroke="#6a6a6a" stroke-width="1.3"/>
<circle cx="305.30" cy="270.80" r="3.95" fill="none" stroke="#6a6a6a" stroke-width="1.25"/>
<circle cx="305.30" cy="272.50" r="3.95" fill="none" stroke="#6a6a6a" stroke-width="1.25"/>
<circle cx="305.30" cy="273.80" r="3.95" fill="none" stroke="#6a6a6a" stroke-width="1.25"/>
<rect x="46.95" y="212.35" width="280.15" height="170.90" fill="none" stroke="#000" stroke-width="1.25"/>
<rect x="332.30" y="276.30" width="69.00" height="101.40" fill="#fff" stroke="#cccccc" stroke-width="1.0" rx="2"/>
<rect x="335.80" y="280.20" width="19.60" height="7.00" fill="#abcbee" stroke="#6a6a6a" stroke-width="1.1"/>
<text x="362.60" y="287.70" stroke="#111">P</text>
<rect x="335.80" y="294.40" width="19.60" height="7.00" fill="#e9b592" stroke="#6a6a6a" stroke-width="1.1"/>
<text x="362.60" y="301.90" stroke="#111">R</text>
<rect x="335.80" y="308.60" width="19.60" height="7.00" fill="#9ee6ab" stroke="#6a6a6a" stroke-width="1.1"/>
<text x="362.60" y="316.10" stroke="#111">A</text>
<rect x="335.80" y="322.80" width="19.60" height="7.00" fill="#eeaaa8" stroke="#6a6a6a" stroke-width="1.1"/>
<text x="362.60" y="330.30" stroke="#111" textLength="20.29" lengthAdjust="spacingAndGlyphs">P+R</text>
<rect x="335.80" y="337.00" width="19.60" height="7.00" fill="#cdc1f6" stroke="#6a6a6a" stroke-width="1.1"/>
<text x="362.60" y="344.50" stroke="#111" textLength="20.19" lengthAdjust="spacingAndGlyphs">A+P</text>
<rect x="335.80" y="351.20" width="19.60" height="7.00" fill="#d6bba3" stroke="#6a6a6a" stroke-width="1.1"/>
<text x="362.60" y="358.70" stroke="#111" textLength="21.06" lengthAdjust="spacingAndGlyphs">A+R</text>
<rect x="335.80" y="365.40" width="19.60" height="7.00" fill="#ecb7df" stroke="#6a6a6a" stroke-width="1.1"/>
<text x="362.60" y="372.90" stroke="#111" textLength="34.75" lengthAdjust="spacingAndGlyphs">A+P+R</text>
<text x="421.20" y="220.80" font-size="13.8" font-weight="bold" stroke="#111">d</text>
<rect x="500.50" y="215.47" width="14.69" height="12.48" fill="#abcae9"/>
<rect x="500.50" y="227.95" width="3.87" height="12.48" fill="#e2b08c"/>
<text x="515.39" y="225.21" stroke="#111" textLength="27.20" lengthAdjust="spacingAndGlyphs">0.186</text>
<text x="504.57" y="237.70" stroke="#111" textLength="27.20" lengthAdjust="spacingAndGlyphs">0.049</text>
<line x1="495.90" y1="227.95" x2="500.50" y2="227.95" stroke="#000" stroke-width="1.1"/>
<text x="490.50" y="231.95" text-anchor="end" stroke="#111" textLength="37.63" lengthAdjust="spacingAndGlyphs">DNA_AF</text>
<rect x="500.50" y="246.68" width="31.92" height="12.48" fill="#abcae9"/>
<rect x="500.50" y="259.16" width="17.93" height="12.48" fill="#e2b08c"/>
<text x="532.62" y="256.42" stroke="#111" textLength="27.20" lengthAdjust="spacingAndGlyphs">0.404</text>
<text x="518.63" y="268.91" stroke="#111" textLength="27.20" lengthAdjust="spacingAndGlyphs">0.227</text>
<line x1="495.90" y1="259.16" x2="500.50" y2="259.16" stroke="#000" stroke-width="1.1"/>
<text x="490.50" y="263.16" text-anchor="end" stroke="#111" textLength="36.92" lengthAdjust="spacingAndGlyphs">RNA_AF</text>
<rect x="500.50" y="277.89" width="69.12" height="12.48" fill="#abcae9"/>
<rect x="500.50" y="290.38" width="55.22" height="12.48" fill="#e2b08c"/>
<text x="569.83" y="287.63" stroke="#111" textLength="27.20" lengthAdjust="spacingAndGlyphs">0.875</text>
<text x="555.92" y="300.12" stroke="#111" textLength="27.20" lengthAdjust="spacingAndGlyphs">0.699</text>
<line x1="495.90" y1="290.38" x2="500.50" y2="290.38" stroke="#000" stroke-width="1.1"/>
<text x="490.50" y="294.38" text-anchor="end" stroke="#111" textLength="67.14" lengthAdjust="spacingAndGlyphs">RNA_EXP_QRT</text>
<rect x="500.50" y="309.10" width="7.19" height="12.48" fill="#abcae9"/>
<rect x="500.50" y="321.58" width="13.59" height="12.48" fill="#e2b08c"/>
<text x="507.89" y="318.84" stroke="#111" textLength="27.20" lengthAdjust="spacingAndGlyphs">0.091</text>
<text x="514.29" y="331.33" stroke="#111" textLength="27.20" lengthAdjust="spacingAndGlyphs">0.172</text>
<line x1="495.90" y1="321.58" x2="500.50" y2="321.58" stroke="#000" stroke-width="1.1"/>
<text x="490.50" y="325.58" text-anchor="end" stroke="#111" textLength="25.99" lengthAdjust="spacingAndGlyphs">PHBR</text>
<rect x="500.50" y="340.31" width="157.84" height="12.48" fill="#abcae9"/>
<rect x="500.50" y="352.79" width="124.98" height="12.48" fill="#e2b08c"/>
<text x="658.54" y="350.05" stroke="#111" textLength="27.20" lengthAdjust="spacingAndGlyphs">1.998</text>
<text x="625.68" y="362.54" stroke="#111" textLength="27.20" lengthAdjust="spacingAndGlyphs">1.582</text>
<line x1="495.90" y1="352.79" x2="500.50" y2="352.79" stroke="#000" stroke-width="1.1"/>
<text x="490.50" y="356.79" text-anchor="end" stroke="#111" textLength="55.22" lengthAdjust="spacingAndGlyphs">NP-Immuno</text>
<line x1="500.50" y1="368.40" x2="500.50" y2="373.00" stroke="#000" stroke-width="1.1"/>
<text x="500.50" y="386.00" text-anchor="middle" stroke="#111" textLength="15.11" lengthAdjust="spacingAndGlyphs">0.0</text>
<line x1="540.00" y1="368.40" x2="540.00" y2="373.00" stroke="#000" stroke-width="1.1"/>
<text x="540.00" y="386.00" text-anchor="middle" stroke="#111" textLength="15.11" lengthAdjust="spacingAndGlyphs">0.5</text>
<line x1="579.50" y1="368.40" x2="579.50" y2="373.00" stroke="#000" stroke-width="1.1"/>
<text x="579.50" y="386.00" text-anchor="middle" stroke="#111" textLength="15.11" lengthAdjust="spacingAndGlyphs">1.0</text>
<line x1="619.00" y1="368.40" x2="619.00" y2="373.00" stroke="#000" stroke-width="1.1"/>
<text x="619.00" y="386.00" text-anchor="middle" stroke="#111" textLength="15.11" lengthAdjust="spacingAndGlyphs">1.5</text>
<line x1="658.50" y1="368.40" x2="658.50" y2="373.00" stroke="#000" stroke-width="1.1"/>
<text x="658.50" y="386.00" text-anchor="middle" stroke="#111" textLength="15.11" lengthAdjust="spacingAndGlyphs">2.0</text>
<text x="583.10" y="400.90" text-anchor="middle" stroke="#111" textLength="50.93" lengthAdjust="spacingAndGlyphs">Coefficient</text>
<rect x="500.50" y="212.35" width="165.50" height="156.05" fill="none" stroke="#000" stroke-width="1.25"/>
<rect x="595.00" y="217.20" width="65.80" height="45.30" fill="#fff" stroke="#cccccc" stroke-width="1.0" rx="2"/>
<text x="628.00" y="229.00" text-anchor="middle" stroke="#111" textLength="21.97" lengthAdjust="spacingAndGlyphs">MHC</text>
<rect x="598.70" y="236.10" width="19.30" height="6.40" fill="#abcae9"/>
<rect x="598.70" y="250.20" width="19.30" height="6.40" fill="#e2b08c"/>
<text x="626.30" y="243.10" stroke="#111" textLength="28.20" lengthAdjust="spacingAndGlyphs">MHC-I</text>
<text x="626.30" y="257.30" stroke="#111" textLength="31.01" lengthAdjust="spacingAndGlyphs">MHC-II</text>
</g>
</svg>
</body></html>
